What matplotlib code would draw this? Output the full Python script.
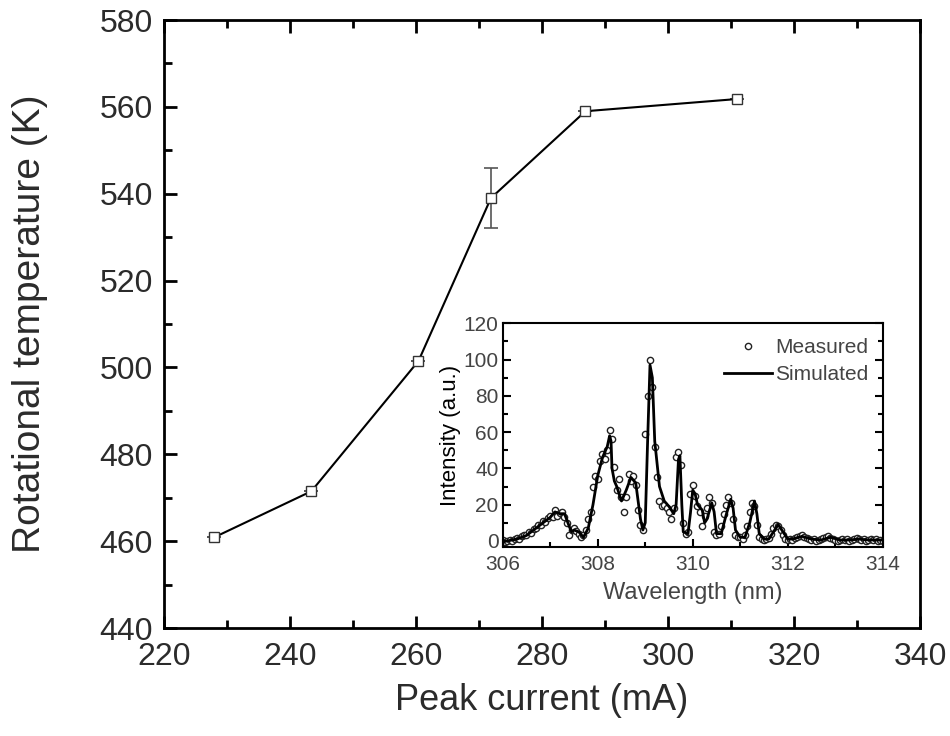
import numpy as np
import matplotlib
matplotlib.use("Agg")
import matplotlib.pyplot as plt
from matplotlib.ticker import MultipleLocator

plt.rcParams['font.family'] = ['Liberation Sans', 'DejaVu Sans']

# Main series: rotational temperature vs. peak current
peak_current = [228.0, 243.4, 260.4, 271.9, 286.9, 310.9]
rot_temp = [460.9, 471.5, 501.5, 539.0, 559.0, 561.8]
rot_temp_err = [0, 0, 0, 7.0, 0, 0]

# Inset: simulated OH emission spectrum
sim_wl = [306.0, 306.3, 306.5, 306.7, 306.9, 307.0, 307.1, 307.2, 307.3, 307.4,
          307.45, 307.5, 307.6, 307.7, 307.8, 307.9, 308.0, 308.1, 308.15, 308.2,
          308.25, 308.28, 308.3, 308.35, 308.4, 308.5, 308.6, 308.7, 308.8, 308.9,
          308.95, 309.0, 309.05, 309.1, 309.15, 309.2, 309.3, 309.4, 309.5, 309.6,
          309.65, 309.7, 309.73, 309.77, 309.8, 309.9, 309.95, 310.0, 310.05, 310.1,
          310.2, 310.25, 310.3, 310.4, 310.45, 310.5, 310.6, 310.7, 310.8, 310.85,
          310.9, 311.0, 311.1, 311.2, 311.3, 311.35, 311.4, 311.5, 311.6, 311.7,
          311.8, 311.9, 312.0, 312.1, 312.3, 312.5, 312.7, 312.9, 313.1, 313.3,
          313.5, 313.7, 314.0]
sim_int = [-0.5, 1, 3, 7, 11, 13, 16, 15, 15, 8,
           5, 6, 5, 2, 7, 20, 36, 46, 49, 52,
           58, 55, 40, 33, 30, 22, 28, 35, 32, 12,
           6, 10, 55, 97, 90, 55, 30, 22, 19, 15,
           20, 45, 47, 20, 5, 4, 15, 28, 26, 20,
           17, 10, 12, 21, 16, 4, 4, 14, 23, 18,
           6, 2, 2, 10, 22, 15, 4, 1, 1, 5,
           9, 5, 1, 1, 2.5, 1, 0.5, 2, 0.5, 0.5,
           1, 0.5, 0.5]

# Inset: measured spectrum, sampled every 0.05 nm from 306.00 to 314.00 nm
meas_wl_start, meas_wl_step = 306.0, 0.05
meas_int = [0.5, -0.5, 0, 0.5, 0, 1, 1.5, 1, 2.5, 3,
            3.5, 5, 4.5, 6.5, 7, 8.5, 9, 11, 10.5, 12.5,
            14, 13, 17, 14, 15.5, 16, 13, 10, 3.5, 6,
            7, 5.5, 4, 2, 3, 6, 12, 16, 30, 36,
            34, 44, 48, 45, 50, 61, 56, 41, 28, 34,
            24, 16, 24, 37, 33, 36, 31, 17, 9, 6,
            59, 80, 100, 85, 52, 35, 22, 19, 20, 18,
            16, 12, 18, 46, 49, 42, 10, 4, 5, 26,
            31, 25, 19, 16, 8, 14, 18, 24, 21, 5,
            3, 4, 8, 15, 20, 24, 21, 12, 3, 2,
            2, 1, 3, 8, 16, 21, 19, 9, 2, 1,
            0.5, 1, 1.5, 4, 7, 9, 8, 6, 3, 1,
            0.5, 1, 0.5, 1.5, 2, 2.5, 3, 2, 1.5, 1,
            0.5, 1, 0, 0.5, 1, 1.5, 2, 2.5, 1.5, 1,
            0.5, 0, 0.5, 1, 0.5, 1, 0, 0.5, 1, 1.5,
            1, 0.5, 1, 0, 0.5, 1, 0.5, 1, 0, 0.5,
            0]
meas_wl = meas_wl_start + meas_wl_step * np.arange(len(meas_int))

text_color = '#2b2b2b'

fig = plt.figure(figsize=(9.5, 7.36), dpi=100)

# ---- main axes ----
ax = fig.add_axes([0.1726, 0.1467, 0.7958, 0.8261])
ax.errorbar(peak_current, rot_temp, yerr=rot_temp_err, fmt='none',
            ecolor='#555555', elinewidth=1.2, capsize=5, capthick=1.2, zorder=2)
ax.plot(peak_current, rot_temp, '-', color='black', lw=1.5, zorder=3)
ax.plot(peak_current, rot_temp, 's', ms=7.5, mfc='white', mec='#333333',
        mew=1.0, zorder=4)
ax.set_xlim(220, 340)
ax.set_ylim(440, 580)
ax.xaxis.set_major_locator(MultipleLocator(20))
ax.xaxis.set_minor_locator(MultipleLocator(10))
ax.yaxis.set_major_locator(MultipleLocator(20))
ax.yaxis.set_minor_locator(MultipleLocator(10))
ax.tick_params(which='both', direction='in', top=True, right=False,
               labelsize=23, labelcolor=text_color, width=2.0)
ax.tick_params(axis='x', pad=10)
ax.tick_params(axis='y', pad=8)
ax.tick_params(which='major', length=9)
ax.tick_params(which='minor', length=6)
for s in ax.spines.values():
    s.set_linewidth(2.0)
ax.set_xlabel('Peak current (mA)', fontsize=26, color=text_color, labelpad=8)
ax.set_ylabel('Rotational temperature (K)', fontsize=28, color=text_color,
              labelpad=37)

# ---- inset ----
ins = fig.add_axes([0.5292, 0.2572, 0.4000, 0.3035])
ins.plot(meas_wl, meas_int, 'o', ms=4.5, mfc='white', mec='#222222', mew=1.0,
         label='Measured', zorder=2)
ins.plot(sim_wl, sim_int, '-', color='black', lw=2.0, label='Simulated', zorder=3)
ins.set_xlim(306, 314)
ins.set_ylim(-3.2, 120)
ins.xaxis.set_major_locator(MultipleLocator(2))
ins.xaxis.set_minor_locator(MultipleLocator(1))
ins.yaxis.set_major_locator(MultipleLocator(20))
ins.yaxis.set_minor_locator(MultipleLocator(10))
ins.tick_params(which='both', direction='in', right=True, top=False,
                labelsize=15, labelcolor='#444444', width=1.5)
ins.tick_params(axis='x', pad=6)
ins.tick_params(axis='y', pad=3)
ins.tick_params(which='major', length=6)
ins.tick_params(which='minor', length=3.5)
for s in ins.spines.values():
    s.set_linewidth(1.5)
ins.set_xlabel('Wavelength (nm)', fontsize=17, color='#444444', labelpad=6)
ins.set_ylabel('Intensity (a.u.)', fontsize=16, color='black', labelpad=2)
leg = ins.legend(loc='upper right', frameon=False, fontsize=15,
                 handlelength=2.3, handletextpad=0.15, labelspacing=0.4,
                 borderaxespad=0.3)
for t in leg.get_texts():
    t.set_color('#444444')

fig.savefig('out.png', dpi=100)
